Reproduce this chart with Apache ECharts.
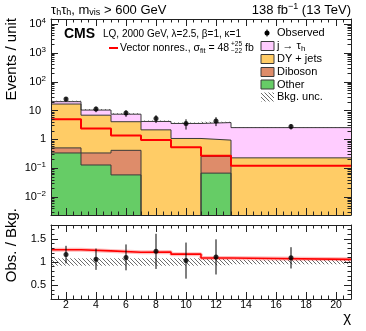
<!DOCTYPE html>
<html>
<head>
<meta charset="utf-8">
<script src="https://cdn.jsdelivr.net/npm/echarts@6/dist/echarts.min.js"></script>
<style>
  html, body { margin: 0; padding: 0; background: #fff; }
  #chart { width: 366px; height: 331px; }
</style>
</head>
<body>
<div id="chart"></div>
<script>
// chi bins (variable width, last bin is 13-21)
const binEdges = [1, 3, 5, 7, 9, 11, 13, 21];
const binCenters = [2, 4, 6, 8, 10, 12, 17];

// background components, events / unit
const other   = [0.34, 0.13, 0.059, 0, 0, 0.068, 0];
const diboson = [0.17, 0.21, 0.36, 0, 0, 0.19, 0];
const dyJets  = [16.4, 6.6, 3.7, 2.15, 1.08, 0.69, 0.23];
const jetFake = [3.5, 3.5, 3.4, 2.05, 2.5, 2.9, 2.34];
const bkgUnc  = [0.08, 0.08, 0.08, 0.08, 0.08, 0.07, 0.05]; // relative

// signal: vector LQ nonres.
const signal = [5.0, 2.4, 1.38, 0.95, 0.54, 0.27, 0.122];

// observed data
const observed    = [25, 11.3, 8.2, 5.3, 3.6, 4.4, 2.8];
const observedErr = [4.3, 2.5, 2.1, 1.6, 1.4, 1.5, 0.6];

// lower panel
const ratioObs    = [1.16, 1.06, 1.10, 1.23, 1.03, 1.11, 1.09];
const ratioObsErr = [0.19, 0.23, 0.28, 0.38, 0.39, 0.38, 0.23];
const ratioSignal = [1.265, 1.24, 1.21, 1.215, 1.17, 1.086, 1.057];

// ticks
const xMajor = [2, 4, 6, 8, 10, 12, 14, 16, 18, 20];
const xMinor = [];
for (let v = 1.5; v < 21; v += 0.5) xMinor.push(v);
const yMajor = [0.01, 0.1, 1, 10, 100, 1000, 10000];
const yMinor = [];
for (let e = -3; e <= 4; e++) for (let m = 2; m <= 9; m++) yMinor.push(m * Math.pow(10, e));
const rMajor = [0.5, 1, 1.5];
const rMinor = [0.3, 0.4, 0.6, 0.7, 0.8, 0.9, 1.1, 1.2, 1.3, 1.4, 1.6, 1.7];

const Y_MIN = 0.0024, Y_MAX = 15000;
const R_MIN = 0.2, R_MAX = 1.8;
const FLOOR = 1e-6; // stand-in for empty bins on the log axis
const FONT = 'Liberation Sans, Arial, sans-serif';

const cum = (...parts) => parts[0].map((_, i) => parts.reduce((s, p) => s + p[i], 0));
const cOther = cum(other);
const cDib = cum(other, diboson);
const cDY = cum(other, diboson, dyJets);
const cTotal = cum(other, diboson, dyJets, jetFake);

function stepData(vals) {
  return binEdges.map((e, i) => [e, Math.max(vals[Math.min(i, vals.length - 1)], FLOOR)]);
}

function makeHatch() {
  const c = document.createElement('canvas');
  c.width = 4; c.height = 4;
  const g = c.getContext('2d');
  g.strokeStyle = '#5a5a5a';
  g.lineWidth = 0.9;
  g.beginPath();
  g.moveTo(-1, -1); g.lineTo(5, 5);
  g.moveTo(-1, 3); g.lineTo(1, 5);
  g.moveTo(3, -1); g.lineTo(5, 1);
  g.stroke();
  return c;
}
const hatch = { image: makeHatch(), repeat: 'repeat' };

function logLabel(v) {
  const e = Math.round(Math.log10(v));
  if (e === 0) return '1';
  if (e === 1) return '{t|10}';
  return '10{s|' + (e < 0 ? '\u2212' + (-e) : e) + '}';
}

const axisColor = '#222';
function xAxes(grid, labels) {
  const base = {
    type: 'value', gridIndex: grid, min: 1, max: 21, z: 10,
    splitLine: { show: false },
    axisLine: { show: false, onZero: false }
  };
  const major = { inside: true, length: 7, customValues: xMajor, lineStyle: { color: axisColor } };
  const minor = { inside: true, length: 3.5, customValues: xMinor, lineStyle: { color: axisColor } };
  return [
    { ...base, position: 'bottom', axisLine: { show: true, onZero: false, lineStyle: { color: axisColor } },
      axisTick: major,
      axisLabel: { show: labels, customValues: xMajor, margin: 1, fontSize: 10.5, color: '#000', fontFamily: FONT } },
    { ...base, position: 'bottom', axisTick: minor, axisLabel: { show: false } },
    { ...base, position: 'top', axisLine: { show: true, onZero: false, lineStyle: { color: axisColor } },
      axisTick: major, axisLabel: { show: false } },
    { ...base, position: 'top', axisTick: minor, axisLabel: { show: false } }
  ];
}
function yAxes(grid, type, min, max, major, minor, label) {
  const base = {
    type, gridIndex: grid, min, max, z: 10,
    splitLine: { show: false },
    axisLine: { show: false, onZero: false }
  };
  const mt = { inside: true, length: 7, customValues: major, lineStyle: { color: axisColor } };
  const nt = { inside: true, length: 3.5, customValues: minor, lineStyle: { color: axisColor } };
  return [
    { ...base, position: 'left', axisLine: { show: true, onZero: false, lineStyle: { color: axisColor } },
      axisTick: mt,
      axisLabel: { customValues: major, margin: 5, fontSize: 11, color: '#000', fontFamily: FONT,
        formatter: label,
        rich: {
          s: { fontSize: 8, verticalAlign: 'top', padding: [0, 0, 6, 0], fontFamily: FONT },
          t: { fontSize: 11, padding: [0, 5, 0, 0], fontFamily: FONT }
        } } },
    { ...base, position: 'left', axisTick: nt, axisLabel: { show: false } },
    { ...base, position: 'right', axisLine: { show: true, onZero: false, lineStyle: { color: axisColor } },
      axisTick: mt, axisLabel: { show: false } },
    { ...base, position: 'right', axisTick: nt, axisLabel: { show: false } }
  ];
}

function histSeries(name, vals, fill, xi, yi) {
  return {
    name, type: 'line', step: 'end', xAxisIndex: xi, yAxisIndex: yi,
    data: stepData(vals), symbol: 'none', clip: true, silent: true,
    lineStyle: { color: '#3a3a3a', width: 1 },
    areaStyle: { color: fill, opacity: 1, origin: 'start' }
  };
}

function bandSeries(xi, yi, rows) {
  return {
    type: 'custom', xAxisIndex: xi, yAxisIndex: yi, silent: true, clip: true,
    data: rows, encode: { x: [0, 1], y: [2, 3] },
    renderItem(params, api) {
      const a = api.coord([api.value(0), api.value(3)]);
      const b = api.coord([api.value(1), api.value(2)]);
      return { type: 'rect', shape: { x: a[0], y: a[1], width: b[0] - a[0], height: b[1] - a[1] },
        style: { fill: hatch, stroke: null } };
    }
  };
}

function errSeries(xi, yi, rows) {
  return {
    type: 'custom', xAxisIndex: xi, yAxisIndex: yi, silent: true, clip: true, z: 5,
    data: rows, encode: { x: 0, y: [1, 2] },
    renderItem(params, api) {
      const a = api.coord([api.value(0), api.value(1)]);
      const b = api.coord([api.value(0), api.value(2)]);
      return { type: 'line', shape: { x1: a[0], y1: a[1], x2: b[0], y2: b[1] },
        style: { stroke: '#000', lineWidth: 1 } };
    }
  };
}

const mainBand = binCenters.map((_, i) =>
  [binEdges[i], binEdges[i + 1], cTotal[i] * (1 - bkgUnc[i]), cTotal[i] * (1 + bkgUnc[i])]);
const ratioBand = binCenters.map((_, i) =>
  [binEdges[i], binEdges[i + 1], 1 - bkgUnc[i], 1 + bkgUnc[i]]);
const mainErr = binCenters.map((x, i) => [x, observed[i] - observedErr[i], observed[i] + observedErr[i]]);
const ratioErr = binCenters.map((x, i) => [x, ratioObs[i] - ratioObsErr[i], ratioObs[i] + ratioObsErr[i]]);

const sub = { fontSize: 9, verticalAlign: 'bottom', padding: [6, 0, 0, 0], fontFamily: FONT };
const sup = { fontSize: 9, verticalAlign: 'top', padding: [0, 0, 6, 0], fontFamily: FONT };

function txt(x, y, text, opts = {}) {
  return { type: 'text', x, y, z: 20, rotation: opts.rotation || 0,
    style: { text, fill: '#000', font: (opts.weight || 'normal') + ' ' + (opts.size || 10.5) + 'px ' + FONT,
      align: opts.align || 'left', verticalAlign: 'middle', rich: opts.rich } };
}
function box(y, fill) {
  return { type: 'rect', z: 20, shape: { x: 261, y: y - 4.5, width: 13, height: 9 },
    style: { fill, stroke: '#3a3a3a', lineWidth: 1 } };
}

const legendY = [33, 46, 59, 72, 84.5, 97];

const chart = echarts.init(document.getElementById('chart'));
chart.setOption({
  animation: false,
  backgroundColor: '#fff',
  grid: [
    { left: 51, top: 19, width: 300, height: 196 },
    { left: 51, top: 225, width: 300, height: 74 }
  ],
  xAxis: [...xAxes(0, false), ...xAxes(1, true)],
  yAxis: [
    ...yAxes(0, 'log', Y_MIN, Y_MAX, yMajor, yMinor, logLabel),
    ...yAxes(1, 'value', R_MIN, R_MAX, rMajor, rMinor, v => String(v))
  ],
  series: [
    histSeries('j \u2192 \u03c4h', cTotal, '#ffccff', 0, 0),
    histSeries('DY + jets', cDY, '#ffcc66', 0, 0),
    histSeries('Diboson', cDib, '#de8c6a', 0, 0),
    histSeries('Other', cOther, '#66cc66', 0, 0),
    bandSeries(0, 0, mainBand),
    {
      name: 'Vector nonres.', type: 'line', step: 'end', xAxisIndex: 0, yAxisIndex: 0,
      data: stepData(signal), symbol: 'none', clip: true, silent: true,
      lineStyle: { color: '#ff0000', width: 2 }
    },
    errSeries(0, 0, mainErr),
    {
      name: 'Observed', type: 'scatter', xAxisIndex: 0, yAxisIndex: 0, z: 6,
      data: binCenters.map((x, i) => [x, observed[i]]),
      symbol: 'circle', symbolSize: 5, itemStyle: { color: '#000' }
    },
    bandSeries(4, 4, ratioBand),
    {
      type: 'line', step: 'end', xAxisIndex: 4, yAxisIndex: 4,
      data: stepData(ratioSignal), symbol: 'none', clip: true, silent: true,
      lineStyle: { color: 'rgba(255,0,0,0.25)', width: 4 }
    },
    {
      type: 'line', step: 'end', xAxisIndex: 4, yAxisIndex: 4,
      data: stepData(ratioSignal), symbol: 'none', clip: true, silent: true,
      lineStyle: { color: '#ff0000', width: 1.6 }
    },
    errSeries(4, 4, ratioErr),
    {
      type: 'scatter', xAxisIndex: 4, yAxisIndex: 4, z: 6,
      data: binCenters.map((x, i) => [x, ratioObs[i]]),
      symbol: 'circle', symbolSize: 5, itemStyle: { color: '#000' }
    }
  ],
  graphic: [
    txt(51, 10, '\u03c4{b|h}\u03c4{b|h}, m{b|vis} > 600 GeV', { size: 13, rich: { b: { ...sub, fontSize: 9 } } }),
    txt(351, 10, '138 fb{p|\u22121} (13 TeV)', { size: 13, align: 'right', rich: { p: sup } }),
    txt(64, 34, 'CMS', { size: 14, weight: 'bold' }),
    txt(103, 34, 'LQ, 2000 GeV, \u03bb=2.5, \u03b2=1, \u03ba=1', { size: 10 }),
    { type: 'line', z: 20, shape: { x1: 109, y1: 48, x2: 118, y2: 48 }, style: { stroke: '#ff0000', lineWidth: 2 } },
    txt(120, 48, 'Vector nonres., \u03c3{b|fit} = 48', { size: 10.5, rich: { b: { ...sub, fontSize: 7 } } }),
    txt(231, 44.5, '+25', { size: 6.5 }),
    txt(231, 51.5, '\u221222', { size: 6.5 }),
    txt(245, 48, 'fb', { size: 10.5 }),
    { type: 'circle', z: 20, shape: { cx: 267, cy: legendY[0], r: 2.5 }, style: { fill: '#000' } },
    { type: 'line', z: 20, shape: { x1: 267, y1: legendY[0] - 3.5, x2: 267, y2: legendY[0] + 3.5 }, style: { stroke: '#000', lineWidth: 1 } },
    txt(277, legendY[0], 'Observed', { size: 11 }),
    box(legendY[1], '#ffccff'),
    txt(277, legendY[1], 'j \u2192 \u03c4{b|h}', { size: 11, rich: { b: { ...sub, fontSize: 8 } } }),
    box(legendY[2], '#ffcc66'),
    txt(277, legendY[2], 'DY + jets', { size: 11 }),
    box(legendY[3], '#de8c6a'),
    txt(277, legendY[3], 'Diboson', { size: 11 }),
    box(legendY[4], '#66cc66'),
    txt(277, legendY[4], 'Other', { size: 11 }),
    { type: 'rect', z: 20, shape: { x: 261, y: legendY[5] - 4.5, width: 13, height: 9 }, style: { fill: hatch } },
    txt(277, legendY[5], 'Bkg. unc.', { size: 11 }),
    txt(12, 18, 'Events / unit', { size: 15, align: 'right', rotation: Math.PI / 2 }),
    txt(12, 208, 'Obs. / Bkg.', { size: 15, align: 'right', rotation: Math.PI / 2 }),
    txt(351, 318, '\u03c7', { size: 15, align: 'right' })
  ]
});
</script>
</body>
</html>
